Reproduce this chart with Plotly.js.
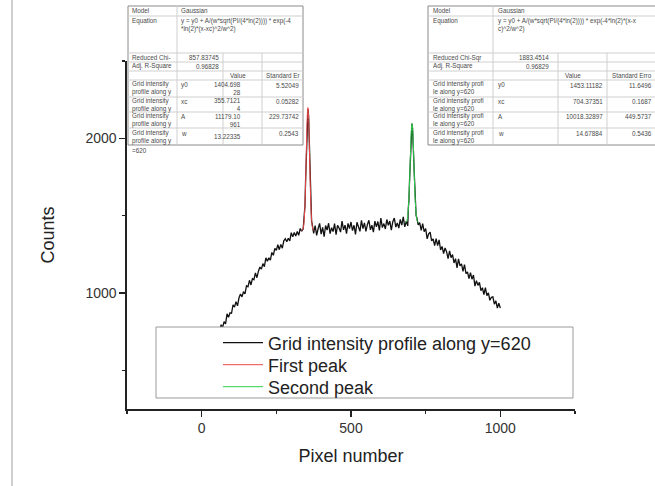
<!DOCTYPE html>
<html><head><meta charset="utf-8">
<script src="https://cdn.plot.ly/plotly-3.0.1.min.js"></script>
<style>html,body{margin:0;padding:0;background:#fff;}#chart{width:655px;height:486px;}</style>
</head><body><div id="chart"></div>
<script>
// ---------- data ----------
const riseX = [0,5,10,15,20,25,30,35,40,45,50,55,60,65,70,75,80,85,90,95,100,105,110,115,120,125,130,135,140,145,150,155,160,165,170,175,180,185,190,195,200,205,210,215,220,225,230,235,240,245,250,255,260,265,270,275,280,285,290,295,300,305,310,315,320,325,330,335,340];
const riseCounts = [572,560,621,606,647,628,670,700,680,718,700,759,752,795,777,815,801,865,843,872,869,924,909,944,917,969,993,975,1008,995,1046,1040,1082,1052,1093,1086,1130,1099,1141,1168,1154,1190,1170,1228,1206,1227,1213,1262,1244,1289,1276,1312,1280,1314,1290,1337,1351,1331,1354,1337,1390,1363,1391,1368,1398,1373,1417,1399,1415];
const peak1DataX = [344,346,348,350,352,354,356,358,360,362,364,366,368,370,372];
const peak1DataCounts = [1510,1570,1730,1860,2060,2150,2190,2145,1985,1840,1660,1560,1465,1445,1400];
const plateauX = [375,380,385,390,395,400,405,410,415,420,425,430,435,440,445,450,455,460,465,470,475,480,485,490,495,500,505,510,515,520,525,530,535,540,545,550,555,560,565,570,575,580,585,590,595,600,605,610,615,620,625,630,635,640,645,650,655,660,665,670,675,680,685,690];
const plateauCounts = [1385,1436,1372,1417,1450,1381,1425,1365,1436,1407,1451,1384,1422,1397,1449,1377,1437,1420,1394,1465,1408,1439,1384,1450,1416,1459,1403,1438,1379,1457,1433,1399,1470,1416,1453,1399,1443,1470,1408,1438,1394,1465,1428,1462,1404,1484,1423,1449,1414,1475,1438,1465,1407,1461,1485,1426,1453,1419,1476,1439,1492,1427,1465,1434];
const peak2DataX = [692,694,696,698,700,702,704,706,708,710,712,714,716,718,720,722,725];
const peak2DataCounts = [1550,1600,1725,1820,1965,2040,2095,2065,2005,1870,1765,1640,1575,1500,1490,1455,1440];
const fallX = [730,735,740,745,750,755,760,765,770,775,780,785,790,795,800,805,810,815,820,825,830,835,840,845,850,855,860,865,870,875,880,885,890,895,900,905,910,915,920,925,930,935,940,945,950,955,960,965,970,975,980,985,990,995,1000];
const fallCounts = [1455,1405,1448,1396,1417,1350,1383,1393,1337,1350,1306,1352,1306,1344,1278,1301,1254,1291,1267,1222,1272,1229,1248,1194,1222,1162,1220,1175,1188,1140,1183,1125,1136,1093,1132,1089,1116,1045,1080,1049,1069,1015,1034,989,1035,983,1001,953,972,975,928,949,903,934,902];

const firstPeakX = [333.7,335.7,337.7,339.7,341.7,343.7,345.7,347.7,349.7,351.7,353.7,355.7,357.7,359.7,361.7,363.7,365.7,367.7,369.7,371.7,373.7,375.7,377.7];
const firstPeakY = [1405,1406,1409,1418,1440,1486,1567,1693,1854,2021,2150,2199,2150,2021,1854,1693,1567,1486,1440,1418,1409,1406,1405];
const secondPeakX = [682.4,684.4,686.4,688.4,690.4,692.4,694.4,696.4,698.4,700.4,702.4,704.4,706.4,708.4,710.4,712.4,714.4,716.4,718.4,720.4,722.4,724.4,726.4];
const secondPeakY = [1454,1457,1463,1477,1505,1554,1630,1734,1856,1975,2062,2094,2062,1975,1856,1734,1630,1554,1505,1477,1463,1457,1454];

const seriesNames = ['Grid intensity profile along y=620','First peak','Second peak'];
const xTitle = 'Pixel number';
const yTitle = 'Counts';

// fit report tables
const equationText1 = 'y = y0 + A/(w*sqrt(PI/(4*ln(2)))) * exp(-4<br>*ln(2)*(x-xc)^2/w^2)';
const equationText2 = 'y = y0 + A/(w*sqrt(PI/(4*ln(2)))) * exp(-4*ln(2)*(x-x<br>c)^2/w^2)';
const paramNames = ['y0','xc','A','w'];
const fit1Values = ['1404.698<br>28','355.7121<br>4','11179.10<br>961','13.22335'];
const fit1Errors = ['5.52049','0.05282','229.73742','0.2543'];
const fit1Stats = ['857.83745','0.96828'];
const fit2Values = ['1453.11182','704.37351','10018.32897','14.67884'];
const fit2Errors = ['11.6496','0.1687','449.5737','0.5436'];
const fit2Stats = ['1883.4514','0.96829'];

// ---------- layout helpers (pixel -> paper) ----------
const M = {l:127, r:80, t:61, b:77}, W = 655, H = 486;
const PW = W - M.l - M.r, PH = H - M.t - M.b;
const px = x => (x - M.l) / PW;
const py = y => (H - M.b - y) / PH;

const annotations = [];
const shapes = [];
const tfont = {family:'Liberation Sans, Arial, sans-serif', size:6.3, color:'#4a4a4a'};
function cell(x, y, text, anchor) {
  annotations.push({xref:'paper', yref:'paper', x:px(x), y:py(y), text:text, showarrow:false,
    xanchor:anchor||'left', yanchor:'middle', align:anchor||'left', font:tfont});
}
function rect(x0, y0, x1, y1, color, fill) {
  shapes.push({type:'rect', xref:'paper', yref:'paper', x0:px(x0), x1:px(x1), y0:py(y0), y1:py(y1),
    line:{color:color, width:1}, fillcolor:fill||'rgba(0,0,0,0)', layer:'above'});
}
function seg(x0, y0, x1, y1, color) {
  shapes.push({type:'line', xref:'paper', yref:'paper', x0:px(x0), x1:px(x1), y0:py(y0), y1:py(y1),
    line:{color:color, width:1}, layer:'above'});
}

const rowCenters = [88.5, 104.5, 120, 136.5];
const rowLines = [16, 53, 62, 71, 80, 97, 112, 128];

// Table 1
rect(128, 6, 303, 145, '#8a8a8a', '#ffffff');
rowLines.forEach(y => seg(128, y, 303, y, '#cfcfcf'));
seg(177, 6, 177, 145, '#cfcfcf'); seg(223, 53, 223, 145, '#cfcfcf'); seg(262, 53, 262, 145, '#cfcfcf');
cell(130, 11, 'Model'); cell(179, 11, 'Gaussian');
cell(130, 21, 'Equation'); cell(179, 24.5, equationText1);
cell(130, 57.5, 'Reduced Chi-'); cell(221, 57.5, fit1Stats[0], 'right');
cell(130, 66.5, 'Adj. R-Square'); cell(221, 66.5, fit1Stats[1], 'right');
cell(228, 75.5, 'Value'); cell(264, 75.5, 'Standard Er');
paramNames.forEach((p, i) => {
  const yc = rowCenters[i];
  cell(130, yc, 'Grid intensity<br>profile along y');
  cell(179, yc - 3.5, p);
  cell(243, yc, fit1Values[i], 'right');
  cell(301, yc - 3.5, fit1Errors[i], 'right');
});
cell(130, 150, '=620');

// Table 2 (runs off the right edge like the original)
rect(428, 6, 700, 145, '#8a8a8a', '#ffffff');
rowLines.forEach(y => seg(428, y, 700, y, '#cfcfcf'));
seg(493, 6, 493, 145, '#cfcfcf'); seg(558, 53, 558, 145, '#cfcfcf'); seg(607, 53, 607, 145, '#cfcfcf');
cell(431, 11, 'Model'); cell(496, 11, 'Gaussian');
cell(431, 21, 'Equation'); cell(496, 24.5, equationText2);
cell(431, 57.5, 'Reduced Chi-Sqr'); cell(551, 57.5, fit2Stats[0], 'right');
cell(431, 66.5, 'Adj. R-Square'); cell(551, 66.5, fit2Stats[1], 'right');
cell(563, 75.5, 'Value'); cell(610, 75.5, 'Standard Erro');
paramNames.forEach((p, i) => {
  const yc = rowCenters[i];
  cell(431, yc, 'Grid intensity profi<br>le along y=620');
  cell(496, yc - 3.5, p);
  cell(605, yc - 3.5, fit2Values[i], 'right');
  cell(654, yc - 3.5, fit2Errors[i], 'right');
});

// legend frame (white, hides the data behind it like the original)
rect(156, 327, 573, 398, '#9a9a9a', '#ffffff');
// thin page frame on the left
seg(12, 0, 12, 486, '#a0a0a0');

const dataX = [].concat(riseX, peak1DataX, plateauX, peak2DataX, fallX);
const dataY = [].concat(riseCounts, peak1DataCounts, plateauCounts, peak2DataCounts, fallCounts);

const traces = [
  {x:dataX, y:dataY, type:'scatter', mode:'lines', name:seriesNames[0], legend:'legend',
   line:{color:'#111111', width:1.3}},
  {x:firstPeakX, y:firstPeakY, type:'scatter', mode:'lines', name:seriesNames[1], legend:'legend2',
   line:{color:'#f04848', width:1, shape:'spline'}},
  {x:secondPeakX, y:secondPeakY, type:'scatter', mode:'lines', name:seriesNames[2], legend:'legend3',
   line:{color:'#2ed24e', width:1, shape:'spline'}}
];

const axisCommon = {
  showgrid:false, zeroline:false, showline:true, linecolor:'#222', linewidth:1.6,
  ticks:'outside', ticklen:6, tickwidth:1.5, tickcolor:'#222',
  tickfont:{family:'Liberation Sans, Arial, sans-serif', size:14, color:'#333'},
  minor:{ticks:'outside', ticklen:3.5, tickwidth:1.5, tickcolor:'#222', showgrid:false}
};

function legendAt(yPix) {
  return {x:px(218), y:py(yPix), xanchor:'left', yanchor:'middle', bgcolor:'rgba(0,0,0,0)', borderwidth:0,
    font:{family:'Liberation Sans, Arial, sans-serif', size:18, color:'#222'}, itemwidth:40};
}

const layout = {
  width:W, height:H, margin:M, paper_bgcolor:'#fff', plot_bgcolor:'#fff',
  font:{family:'Liberation Sans, Arial, sans-serif', color:'#222'},
  showlegend:true,
  legend:legendAt(343), legend2:legendAt(365), legend3:legendAt(387),
  xaxis:Object.assign({}, axisCommon, {range:[-250,1250], tick0:0, dtick:500,
    minor:Object.assign({}, axisCommon.minor, {dtick:250}),
    title:{text:xTitle, font:{size:18, color:'#222'}, standoff:14}}),
  yaxis:Object.assign({}, axisCommon, {range:[250,2500], tick0:0, dtick:1000,
    minor:Object.assign({}, axisCommon.minor, {dtick:500}),
    title:{text:yTitle, font:{size:18, color:'#222'}, standoff:26}}),
  shapes:shapes, annotations:annotations
};

Plotly.newPlot('chart', traces, layout, {staticPlot:true, displayModeBar:false});
</script></body></html>
